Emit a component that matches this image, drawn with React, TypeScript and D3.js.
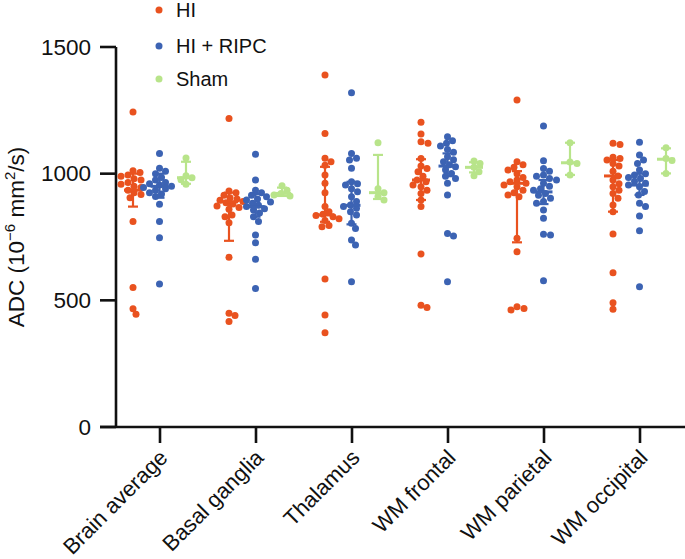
import React, { useEffect, useRef } from "react";
import * as d3 from "d3";

const categories = ["Brain average", "Basal ganglia", "Thalamus", "WM frontal", "WM parietal", "WM occipital"];
const groups = ["HI", "HI + RIPC", "Sham"];
const colors = ["#E9521F", "#3C63B3", "#B8E48A"];
const yTicks = [0, 500, 1000, 1500];

// HI values per category
const hiBrainAverage = [1243, 1012, 1005, 995, 990, 980, 975, 965, 958, 950, 945, 935, 925, 918, 905, 811, 551, 467, 445];
const hiBasalGanglia = [1218, 932, 925, 915, 905, 900, 895, 890, 885, 880, 872, 866, 860, 837, 830, 806, 670, 449, 440, 416];
const hiThalamus = [1389, 1159, 1061, 1047, 1033, 995, 962, 925, 870, 850, 840, 835, 830, 822, 815, 795, 790, 584, 442, 372];
const hiWmFrontal = [1203, 1157, 1126, 1120, 1060, 1030, 1020, 1008, 990, 975, 968, 955, 948, 935, 922, 896, 870, 683, 481, 472];
const hiWmParietal = [1291, 1047, 1035, 1025, 1014, 1000, 985, 975, 968, 962, 955, 948, 935, 925, 916, 909, 745, 692, 475, 468, 462];
const hiWmOccipital = [1120, 1115, 1065, 1060, 1054, 1040, 1030, 1010, 991, 975, 960, 948, 935, 922, 903, 876, 850, 762, 609, 490, 465];

// HI + RIPC values per category
const ripcBrainAverage = [1080, 1021, 1010, 1000, 985, 975, 965, 960, 955, 950, 945, 940, 935, 925, 920, 910, 879, 811, 747, 564];
const ripcBasalGanglia = [1077, 975, 935, 925, 915, 909, 900, 896, 888, 883, 875, 870, 862, 857, 845, 830, 811, 758, 727, 662, 547];
const ripcThalamus = [1319, 1080, 1061, 1054, 1021, 968, 960, 955, 940, 929, 909, 890, 876, 870, 863, 850, 837, 804, 784, 738, 718, 573];
const ripcWmFrontal = [1146, 1130, 1120, 1109, 1095, 1085, 1067, 1055, 1047, 1035, 1027, 1015, 1001, 990, 981, 962, 916, 764, 754, 573];
const ripcWmParietal = [1188, 1051, 1020, 1010, 995, 990, 981, 975, 962, 950, 940, 935, 922, 915, 903, 890, 883, 857, 824, 761, 758, 577];
const ripcWmOccipital = [1124, 1074, 1054, 1040, 1014, 1000, 995, 985, 981, 970, 962, 955, 948, 930, 916, 883, 870, 833, 775, 554];

// Sham values per category
const shamBrainAverage = [1062, 992, 984, 976, 958];
const shamBasalGanglia = [952, 935, 922, 916, 912];
const shamThalamus = [1122, 940, 925, 910, 896];
const shamWmFrontal = [1050, 1040, 1025, 1008, 992];
const shamWmParietal = [1122, 1046, 1040, 995];
const shamWmOccipital = [1102, 1060, 1052, 1001];

// Error bars: center / lower / upper per category
const hiCenter = [935, 889, 837, 975, 962, 991];
const hiLower = [870, 735, 810, 896, 729, 850];
const hiUpper = [1000, 925, 1027, 1057, 1010, 1054];
const ripcCenter = [950, 870, 875, 1030, 928, 955];
const ripcLower = [905, 830, 800, 990, 880, 916];
const ripcUpper = [1000, 920, 968, 1080, 975, 1000];
const shamCenter = [984, 922, 925, 1025, 1043, 1057];
const shamLower = [960, 912, 900, 1005, 995, 1001];
const shamUpper = [1047, 945, 1074, 1045, 1122, 1100];

const hiData = [hiBrainAverage, hiBasalGanglia, hiThalamus, hiWmFrontal, hiWmParietal, hiWmOccipital];
const ripcData = [ripcBrainAverage, ripcBasalGanglia, ripcThalamus, ripcWmFrontal, ripcWmParietal, ripcWmOccipital];
const shamData = [shamBrainAverage, shamBasalGanglia, shamThalamus, shamWmFrontal, shamWmParietal, shamWmOccipital];

const W = 685;
const H = 559;
const FONT = "'Liberation Sans', Arial, Helvetica, sans-serif";

export default function App() {
  const ref = useRef<SVGSVGElement | null>(null);

  useEffect(() => {
    const svg = d3.select(ref.current);
    svg.selectAll("*").remove();

    const x = d3.scalePoint<string>().domain(categories).range([160, 640]);
    const xg = d3.scalePoint<string>().domain(groups).range([-27, 26]);
    const y = d3.scaleLinear().domain([0, 1500]).range([427, 47]);

    const axisColor = "#111";
    // Y axis
    svg.append("line").attr("x1", 116).attr("x2", 116).attr("y1", y(0)).attr("y2", y(1500))
      .attr("stroke", axisColor).attr("stroke-width", 2.6);
    yTicks.forEach((t) => {
      svg.append("line").attr("x1", 100).attr("x2", 116).attr("y1", y(t)).attr("y2", y(t))
        .attr("stroke", axisColor).attr("stroke-width", 2.6);
      svg.append("text").attr("x", 91).attr("y", y(t)).attr("text-anchor", "end")
        .attr("dominant-baseline", "central").attr("font-family", FONT).attr("font-size", 22.5)
        .attr("fill", "#111").text(String(t));
    });
    // X axis
    svg.append("line").attr("x1", 100).attr("x2", W).attr("y1", y(0)).attr("y2", y(0))
      .attr("stroke", axisColor).attr("stroke-width", 2.6);
    categories.forEach((c) => {
      const cx = x(c)!;
      svg.append("line").attr("x1", cx).attr("x2", cx).attr("y1", y(0)).attr("y2", y(0) + 16)
        .attr("stroke", axisColor).attr("stroke-width", 2.6);
      svg.append("text")
        .attr("transform", `translate(${cx + 9},${y(0) + 32}) rotate(-45)`)
        .attr("text-anchor", "end").attr("font-family", FONT).attr("font-size", 22)
        .attr("fill", "#111").text(c);
    });

    // Y label
    const yl = svg.append("text")
      .attr("transform", `translate(24,237) rotate(-90)`)
      .attr("text-anchor", "middle").attr("font-family", FONT).attr("font-size", 22.5).attr("fill", "#111");
    yl.append("tspan").text("ADC (10");
    yl.append("tspan").attr("font-size", 15).attr("dy", -9).text("\u22126");
    yl.append("tspan").attr("dy", 9).text(" mm");
    yl.append("tspan").attr("font-size", 15).attr("dy", -9).text("2");
    yl.append("tspan").attr("dy", 9).text("/s)");

    // Dots with beeswarm layout
    const r = 3.5;
    const datasets = [hiData, ripcData, shamData];
    const centers = [hiCenter, ripcCenter, shamCenter];
    const lowers = [hiLower, ripcLower, shamLower];
    const uppers = [hiUpper, ripcUpper, shamUpper];

    datasets.forEach((data, gi) => {
      const g = groups[gi];
      data.forEach((vals, ci) => {
        const cx = x(categories[ci])! + xg(g)!;
        const placed: { x: number; y: number }[] = [];
        const sorted = [...vals].sort((a, b) => b - a);
        sorted.forEach((v) => {
          const py = y(v);
          let px = cx;
          for (let k = 0; k < 60; k++) {
            const off = k === 0 ? 0 : (k % 2 === 1 ? Math.ceil(k / 2) : -Math.ceil(k / 2));
            const tx = cx + off;
            const ok = placed.every((p) => (p.x - tx) ** 2 + (p.y - py) ** 2 >= (2 * r * 0.9) ** 2);
            if (ok) { px = tx; break; }
          }
          placed.push({ x: px, y: py });
        });
        svg.append("g").selectAll("circle").data(placed).join("circle")
          .attr("cx", (d) => d.x).attr("cy", (d) => d.y).attr("r", r).attr("fill", colors[gi]);

        // error bars
        const eg = svg.append("g").attr("stroke", colors[gi]).attr("stroke-width", 2.2);
        eg.append("line").attr("x1", cx).attr("x2", cx).attr("y1", y(lowers[gi][ci])).attr("y2", y(uppers[gi][ci]));
        eg.append("line").attr("x1", cx - 5).attr("x2", cx + 5).attr("y1", y(lowers[gi][ci])).attr("y2", y(lowers[gi][ci]));
        eg.append("line").attr("x1", cx - 5).attr("x2", cx + 5).attr("y1", y(uppers[gi][ci])).attr("y2", y(uppers[gi][ci]));
        eg.append("line").attr("x1", cx - 9).attr("x2", cx + 9).attr("y1", y(centers[gi][ci])).attr("y2", y(centers[gi][ci]))
          .attr("stroke-width", 3);
      });
    });

    // Legend
    const legY = [10, 46, 79];
    groups.forEach((g, i) => {
      svg.append("circle").attr("cx", 159).attr("cy", legY[i]).attr("r", r).attr("fill", colors[i]);
      svg.append("text").attr("x", 176).attr("y", legY[i]).attr("dominant-baseline", "central")
        .attr("font-family", FONT).attr("font-size", 20).attr("fill", "#111").text(g);
    });
  }, []);

  return (
    <svg ref={ref} width={W} height={H}
      style={{ position: "absolute", left: 0, top: 0, background: "#fff" }} />
  );
}
